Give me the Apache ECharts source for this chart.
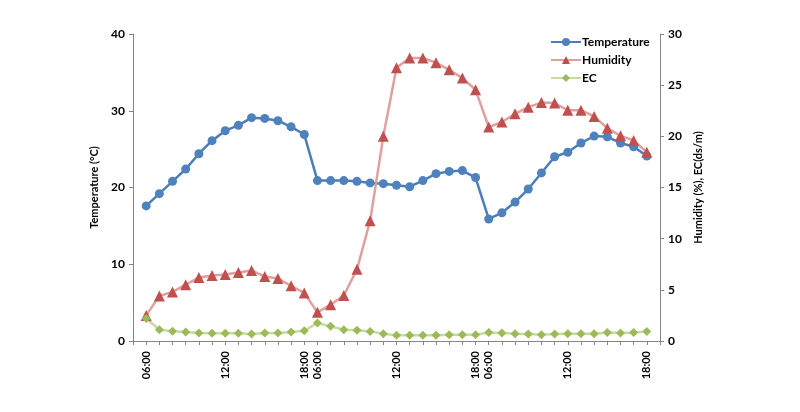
<!DOCTYPE html>
<html>
<head>
<meta charset="utf-8">
<script src="https://cdn.jsdelivr.net/npm/echarts@6/dist/echarts.min.js"></script>
<style>html,body{margin:0;padding:0;background:#fff}#c{width:800px;height:412px}</style>
</head>
<body>
<div id="c"></div>
<script>
const hours = ["06:00","07:00","08:00","09:00","10:00","11:00","12:00","13:00","14:00","15:00","16:00","17:00","18:00"];
const categories = [""].concat(hours, hours, hours, [""]);
const temperature = [17.6,19.2,20.8,22.4,24.4,26.1,27.4,28.1,29.1,29.0,28.7,27.9,26.9,
  20.9,20.9,20.9,20.8,20.6,20.5,20.3,20.1,20.9,21.8,22.1,22.2,21.3,
  15.9,16.7,18.1,19.8,21.9,24.0,24.6,25.8,26.7,26.6,25.8,25.3,24.1];
const humidity = [2.5,4.4,4.8,5.5,6.2,6.4,6.5,6.7,6.9,6.3,6.1,5.4,4.7,
  2.8,3.55,4.45,7.0,11.75,20.0,26.7,27.65,27.65,27.2,26.5,25.7,24.55,
  20.9,21.4,22.2,22.85,23.3,23.25,22.55,22.55,21.95,20.8,20.05,19.6,18.45];
const ec = [2.2,1.1,0.95,0.88,0.78,0.75,0.75,0.75,0.68,0.78,0.78,0.88,1.0,
  1.76,1.43,1.1,1.04,0.94,0.71,0.55,0.55,0.55,0.55,0.6,0.6,0.62,
  0.84,0.78,0.71,0.68,0.6,0.68,0.71,0.71,0.71,0.84,0.78,0.84,0.94];
const leftTicks = [0,10,20,30,40];
const rightTicks = [0,5,10,15,20,25,30];

function pad(a){ return [null].concat(a, [null]); }
const shown = {"06:00":1,"12:00":1,"18:00":1};
const font = 'Lato, "Liberation Sans", sans-serif';
const axisColor = '#868686';

const chart = echarts.init(document.getElementById('c'));
chart.setOption({
  animation: false,
  textStyle: {fontFamily: font},
  grid: {left: 133, right: 140, top: 34, bottom: 71, containLabel: false},
  legend: {
    orient: 'vertical', left: 545, top: 31, itemGap: 6, itemWidth: 30, itemHeight: 10,
    textStyle: {fontFamily: font, fontWeight: 'bold', fontSize: 12, color: '#000', padding: [0,0,0,-4]},
    data: ['Temperature','Humidity','EC']
  },
  xAxis: {
    type: 'category', data: categories, boundaryGap: false,
    axisLine: {lineStyle: {color: axisColor, width: 1}},
    axisTick: {show: true, interval: 0, length: 4, lineStyle: {color: axisColor}},
    axisLabel: {
      interval: function(i, v){ return !!shown[v]; },
      rotate: 90, fontFamily: font, fontWeight: 'bold', fontSize: 11, color: '#000', margin: 10
    },
    splitLine: {show: false}
  },
  yAxis: [
    {
      type: 'value', min: leftTicks[0], max: leftTicks[leftTicks.length-1], interval: 10,
      name: 'Temperature (°C)', nameLocation: 'middle', nameGap: 25, nameRotate: 90,
      nameTextStyle: {fontFamily: font, fontWeight: 'bold', fontSize: 11, color: '#000'},
      axisLine: {show: true, lineStyle: {color: axisColor}},
      axisTick: {show: true, length: 4, lineStyle: {color: axisColor}},
      axisLabel: {fontFamily: font, fontWeight: 'bold', fontSize: 12, color: '#000', margin: 8},
      splitLine: {show: false}
    },
    {
      type: 'value', min: rightTicks[0], max: rightTicks[rightTicks.length-1], interval: 5,
      position: 'right',
      name: 'Humidity (%), EC(ds/m)', nameLocation: 'middle', nameGap: 23, nameRotate: 90,
      nameTextStyle: {fontFamily: font, fontWeight: 'bold', fontSize: 11, color: '#000'},
      axisLine: {show: true, lineStyle: {color: axisColor}},
      axisTick: {show: true, length: 4, lineStyle: {color: axisColor}},
      axisLabel: {fontFamily: font, fontWeight: 'bold', fontSize: 12, color: '#000', margin: 8},
      splitLine: {show: false}
    }
  ],
  series: [
    {
      name: 'Temperature', type: 'line', yAxisIndex: 0, data: pad(temperature),
      symbol: 'circle', symbolSize: 9, showAllSymbol: true,
      lineStyle: {color: '#4A7EBB', width: 2.5},
      itemStyle: {color: '#4F81BD'}
    },
    {
      name: 'Humidity', type: 'line', yAxisIndex: 1, data: pad(humidity),
      symbol: 'triangle', symbolSize: 11, showAllSymbol: true,
      lineStyle: {color: '#E0A09E', width: 2.5},
      itemStyle: {color: '#C0504D'}
    },
    {
      name: 'EC', type: 'line', yAxisIndex: 1, data: pad(ec),
      symbol: 'diamond', symbolSize: 9, showAllSymbol: true,
      lineStyle: {color: '#C6DB9F', width: 2.5},
      itemStyle: {color: '#9BBB59'}
    }
  ]
});
</script>
</body>
</html>
